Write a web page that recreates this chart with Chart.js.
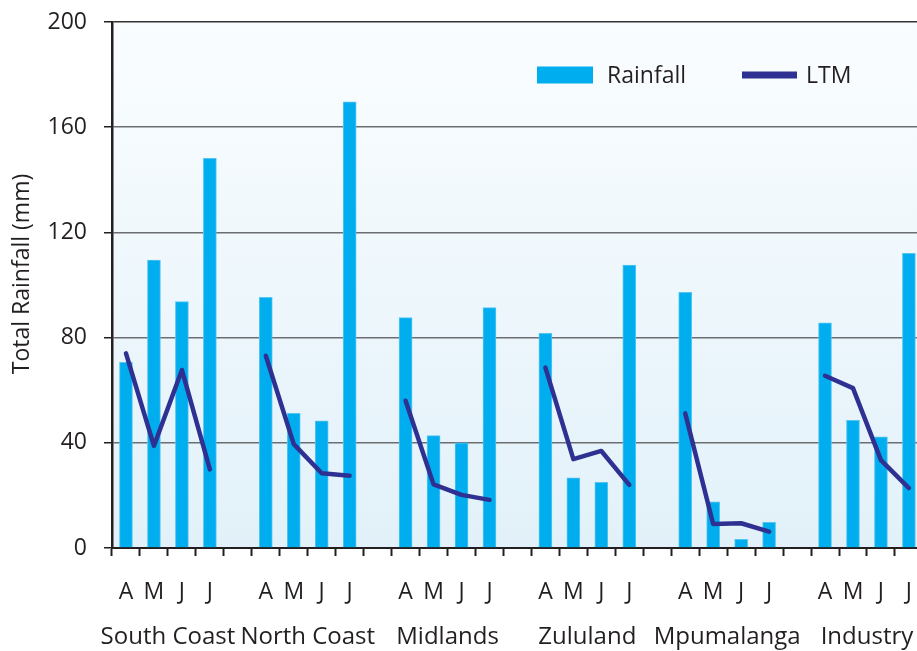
<!DOCTYPE html>
<html>
<head>
<meta charset="utf-8">
<script src="https://cdn.jsdelivr.net/npm/chart.js@4/dist/chart.umd.min.js"></script>
<style>
  html, body { margin: 0; padding: 0; background: #ffffff; overflow: hidden; }
  #wrap { width: 960px; height: 651px; }
</style>
</head>
<body>
<div id="wrap"><canvas id="chart" width="960" height="651"></canvas></div>
<script>
// Regions and months shown on the category axis
const groups = ['South Coast', 'North Coast', 'Midlands', 'Zululand', 'Mpumalanga', 'Industry'];
const months = ['A', 'M', 'J', 'J'];
const yTicks = [0, 40, 80, 120, 160, 200];
const yTitle = 'Total Rainfall (mm)';

// Monthly rainfall (mm), April to July
const rainSouthCoast = [70.6, 109.5, 93.7, 148.2];
const rainNorthCoast = [95.3, 51.2, 48.4, 169.6];
const rainMidlands   = [87.6, 42.7, 40.0, 91.4];
const rainZululand   = [81.6, 26.7, 25.0, 107.6];
const rainMpumalanga = [97.2, 17.6, 3.3, 9.8];
const rainIndustry   = [85.6, 48.5, 42.3, 112.0];

// Long-term mean (mm), April to July
const ltmSouthCoast = [74.0, 38.8, 67.7, 29.9];
const ltmNorthCoast = [73.1, 39.5, 28.4, 27.5];
const ltmMidlands   = [56.0, 24.2, 20.2, 18.3];
const ltmZululand   = [68.6, 33.8, 36.9, 24.0];
const ltmMpumalanga = [51.2, 9.1, 9.4, 6.2];
const ltmIndustry   = [65.5, 60.8, 33.4, 22.8];

const rainByGroup = [rainSouthCoast, rainNorthCoast, rainMidlands, rainZululand, rainMpumalanga, rainIndustry];
const ltmByGroup  = [ltmSouthCoast, ltmNorthCoast, ltmMidlands, ltmZululand, ltmMpumalanga, ltmIndustry];

// Each region takes four month slots plus one empty slot as a spacer
const labels = [];
const rainData = [];
const ltmData = [];
groups.forEach((g, i) => {
  months.forEach((m, j) => {
    labels.push(m);
    rainData.push(rainByGroup[i][j]);
    ltmData.push(ltmByGroup[i][j]);
  });
  labels.push('');
  rainData.push(null);
  ltmData.push(null);
});
const slotsPerGroup = months.length + 1;

const INK = '#231f20';
const FONT = "'Open Sans', 'DejaVu Sans', sans-serif";
const BAR_COLOR = '#00aeef';
const LINE_COLOR = '#2e3192';

// Soft blue gradient behind the plot
const plotBackground = {
  id: 'plotBackground',
  beforeDraw(chart) {
    const { ctx, chartArea: a } = chart;
    const g = ctx.createLinearGradient(0, a.top, 0, a.bottom);
    g.addColorStop(0, '#fafdff');
    g.addColorStop(1, '#e2f1f9');
    ctx.save();
    ctx.fillStyle = g;
    ctx.fillRect(a.left, a.top, a.right - a.left, a.bottom - a.top);
    ctx.restore();
  }
};

// Vertical axis title, set slightly above the middle of the axis
const axisTitle = {
  id: 'axisTitle',
  afterDraw(chart) {
    const { ctx, chartArea: a } = chart;
    ctx.save();
    ctx.translate(22, (a.top + a.bottom) / 2 - 11);
    ctx.rotate(-Math.PI / 2);
    ctx.font = '23px ' + FONT;
    ctx.fillStyle = INK;
    ctx.textAlign = 'center';
    ctx.textBaseline = 'middle';
    ctx.fillText(yTitle, 0, 0);
    ctx.restore();
  }
};

// Legend placed inside the plot, top right
const insideLegend = {
  id: 'insideLegend',
  afterDraw(chart) {
    const { ctx, chartArea: a } = chart;
    const ds = chart.data.datasets;
    const y = a.top + 53;
    ctx.save();
    ctx.font = '23px ' + FONT;
    ctx.textBaseline = 'middle';
    let x = a.left + 425;
    ctx.fillStyle = ds[1].backgroundColor;
    ctx.fillRect(x, y - 8.5, 56, 17);
    ctx.fillStyle = INK;
    ctx.fillText(ds[1].label, x + 70, y + 1);
    x = a.left + 630;
    ctx.fillStyle = ds[0].borderColor;
    ctx.fillRect(x, y - 3.5, 55, 7);
    ctx.fillStyle = INK;
    ctx.fillText(ds[0].label, x + 64, y + 1);
    ctx.restore();
  }
};

new Chart(document.getElementById('chart'), {
  type: 'bar',
  data: {
    labels: labels,
    datasets: [
      {
        type: 'line',
        label: 'LTM',
        data: ltmData,
        borderColor: LINE_COLOR,
        backgroundColor: LINE_COLOR,
        borderWidth: 4.5,
        borderCapStyle: 'round',
        borderJoinStyle: 'round',
        pointRadius: 0,
        tension: 0,
        spanGaps: false,
        order: 0
      },
      {
        type: 'bar',
        label: 'Rainfall',
        data: rainData,
        backgroundColor: BAR_COLOR,
        borderColor: '#55c6f1',
        borderWidth: 1,
        borderSkipped: 'bottom',
        barThickness: 13,
        order: 1
      }
    ]
  },
  options: {
    responsive: false,
    animation: false,
    devicePixelRatio: 1,
    layout: { padding: { left: 0, right: 8, top: 22, bottom: 0 } },
    plugins: {
      legend: { display: false },
      tooltip: { enabled: false }
    },
    scales: {
      x: {
        type: 'category',
        position: 'bottom',
        weight: 0,
        offset: true,
        grid: {
          offset: true,
          drawOnChartArea: false,
          drawTicks: true,
          tickLength: 8,
          tickColor: INK,
          tickWidth: 2
        },
        border: { display: true, color: INK, width: 2 },
        ticks: {
          autoSkip: false,
          maxRotation: 0,
          minRotation: 0,
          padding: 23,
          color: INK,
          font: { family: FONT, size: 23 }
        },
        afterFit(scale) { scale.height = 62; }
      },
      x2: {
        type: 'linear',
        position: 'bottom',
        weight: 1,
        offset: false,
        min: -0.5,
        max: labels.length - 0.5,
        grid: { display: false, drawTicks: false, offset: false },
        border: { display: false },
        afterBuildTicks(scale) {
          scale.ticks = groups.map((g, i) => ({ value: i * slotsPerGroup + (months.length - 1) / 2 }));
        },
        ticks: {
          autoSkip: false,
          maxRotation: 0,
          minRotation: 0,
          padding: 13,
          color: INK,
          font: { family: FONT, size: 24 },
          callback: (v, i) => groups[i]
        },
        afterFit(scale) { scale.height = 41; }
      },
      y: {
        min: 0,
        max: 200,
        afterBuildTicks(scale) {
          scale.ticks = yTicks.map(v => ({ value: v }));
        },
        grid: {
          color: ctx => (ctx.tick && ctx.tick.value === 200) ? '#333333' : '#6d6e71',
          tickColor: INK,
          lineWidth: 1.5,
          tickLength: 8,
          drawTicks: true
        },
        border: { display: true, color: INK, width: 2.5 },
        ticks: {
          padding: 17,
          color: INK,
          font: { family: FONT, size: 23 }
        },
        afterFit(scale) {
          scale.width = 112;
          scale.paddingTop = 0;
          scale.paddingBottom = 0;
        }
      }
    }
  },
  plugins: [plotBackground, axisTitle, insideLegend]
});
</script>
</body>
</html>
